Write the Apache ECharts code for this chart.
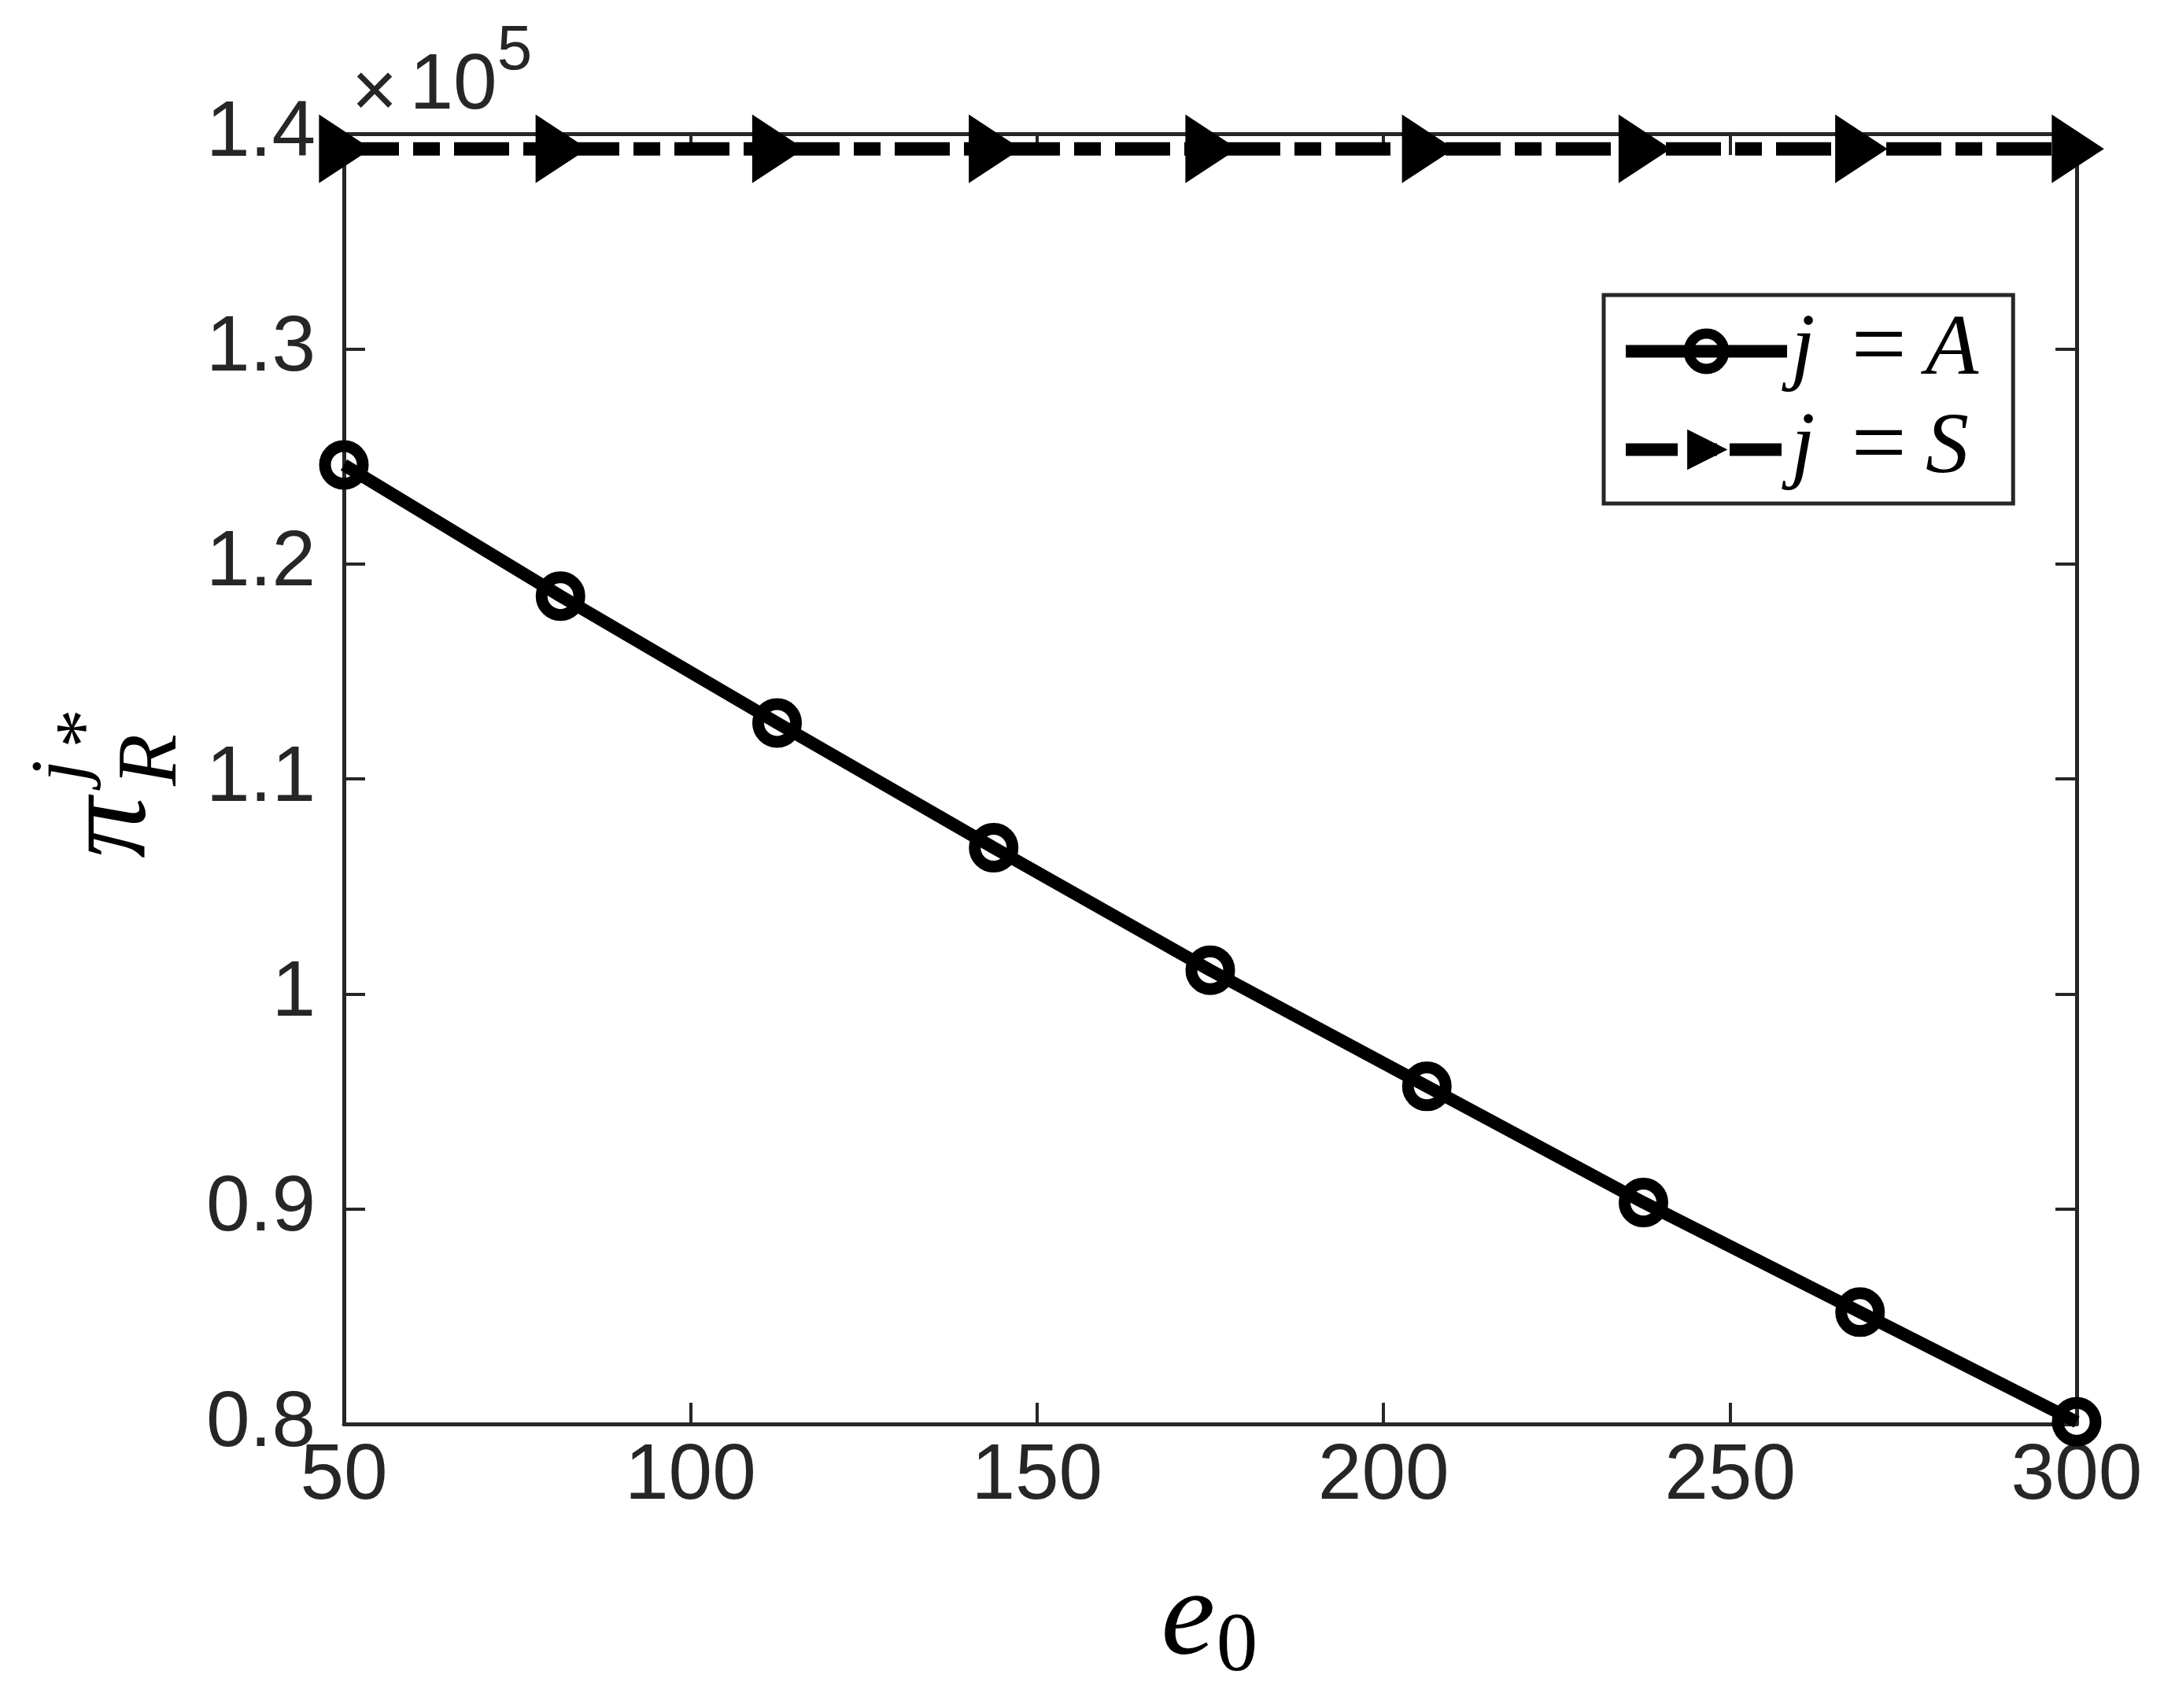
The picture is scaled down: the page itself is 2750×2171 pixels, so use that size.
<!DOCTYPE html>
<html><head><meta charset="utf-8">
<script src="https://cdn.jsdelivr.net/npm/echarts@6/dist/echarts.min.js"></script>
<style>html,body{margin:0;padding:0;background:#fff}#c{width:2750px;height:2171px}</style>
</head><body><div id="c"></div>
<script>
// x values (e_0)
const e0 = [50, 81.25, 112.5, 143.75, 175, 206.25, 237.5, 268.75, 300];
// pi_R^{j*} for j = A
const piA = [124600, 118500, 112600, 106800, 101100, 95700, 90300, 85200, 80100];
// pi_R^{j*} for j = S
const piS = [139300, 139300, 139300, 139300, 139300, 139300, 139300, 139300, 139300];
const seriesNames = ['A', 'S'];
const xRange = [50, 300, 50];
const yRange = [80000, 140000, 10000];

const AX = '#262626';
const axisLineStyle = {show: true, onZero: false, lineStyle: {color: AX, width: 5}};
const tickStyle = {show: true, inside: true, length: 27, lineStyle: {color: AX, width: 4}};
const labelFont = {fontSize: 100, fontFamily: 'Liberation Sans', color: AX};
const serif = 'Liberation Serif';
const dashS = [70, 18, 34, 18];

const chart = echarts.init(document.getElementById('c'), null, {renderer: 'canvas'});
chart.setOption({
  backgroundColor: '#fff',
  animation: false,
  grid: {left: 437, right: 111, top: 170, bottom: 361, containLabel: false},
  xAxis: [
    {type: 'value', min: xRange[0], max: xRange[1], interval: xRange[2], position: 'bottom',
     axisLine: axisLineStyle, axisTick: tickStyle, splitLine: {show: false},
     axisLabel: Object.assign({margin: 17}, labelFont)},
    {type: 'value', min: xRange[0], max: xRange[1], interval: xRange[2], position: 'top',
     axisLine: axisLineStyle, axisTick: tickStyle, splitLine: {show: false}, axisLabel: {show: false}}
  ],
  yAxis: [
    {type: 'value', min: yRange[0], max: yRange[1], interval: yRange[2], position: 'left',
     axisLine: axisLineStyle, axisTick: tickStyle, splitLine: {show: false},
     axisLabel: Object.assign({margin: 36, formatter: v => String(+(v / 1e5).toFixed(2))}, labelFont)},
    {type: 'value', min: yRange[0], max: yRange[1], interval: yRange[2], position: 'right',
     axisLine: axisLineStyle, axisTick: tickStyle, splitLine: {show: false}, axisLabel: {show: false}}
  ],
  legend: {
    orient: 'vertical', left: 2038, top: 375,
    padding: [9, 44, 6, 20],
    itemGap: 0, itemWidth: 205, itemHeight: 56,
    borderColor: AX, borderWidth: 5, backgroundColor: '#fff', borderRadius: 0,
    lineStyle: {color: '#000', width: 16},
    data: [
      {name: seriesNames[0],
       itemStyle: {color: 'rgba(0,0,0,0)', borderColor: '#000', borderWidth: 13},
       lineStyle: {color: '#000', width: 16, type: 'solid'}},
      {name: seriesNames[1],
       itemStyle: {color: '#000', borderColor: '#000', borderWidth: 4},
       lineStyle: {color: '#000', width: 16, type: [66, 16, 34, 16]}}
    ],
    formatter: n => '{i|j}{e|=}{i|' + n + '}',
    textStyle: {
      fontSize: 110, lineHeight: 100, fontFamily: serif, color: '#000',
      rich: {
        i: {fontSize: 110, lineHeight: 100, fontFamily: serif, fontStyle: 'italic', color: '#000'},
        e: {fontSize: 125, lineHeight: 100, fontFamily: serif, color: '#000', padding: [0, 24, 0, 46]}
      }
    }
  },
  series: [
    {name: 'A', type: 'line', xAxisIndex: 0, yAxisIndex: 0, clip: false,
     data: e0.map((x, i) => [x, piA[i]]),
     symbol: 'circle', symbolSize: 48,
     lineStyle: {color: '#000', width: 16},
     itemStyle: {color: 'rgba(0,0,0,0)', borderColor: '#000', borderWidth: 15}},
    {name: 'S', type: 'line', xAxisIndex: 0, yAxisIndex: 0, clip: false,
     data: e0.map((x, i) => [x, piS[i]]),
     symbol: 'triangle', symbolSize: [76, 58], symbolRotate: -90,
     lineStyle: {color: '#000', width: 17, type: dashS},
     itemStyle: {color: '#000', borderColor: '#000', borderWidth: 6}}
  ],
  graphic: [
    {type: 'text', x: 476, y: 120, style: {text: '×', fontSize: 100, fontFamily: 'Liberation Sans', fill: AX, align: 'center', verticalAlign: 'middle'}},
    {type: 'text', x: 576, y: 110, style: {text: '10', fontSize: 100, fontFamily: 'Liberation Sans', fill: AX, align: 'center', verticalAlign: 'middle'}},
    {type: 'text', x: 654, y: 66, style: {text: '5', fontSize: 80, fontFamily: 'Liberation Sans', fill: AX, align: 'center', verticalAlign: 'middle'}},
    {type: 'text', x: 1510, y: 2060, style: {text: 'e', fontSize: 155, fontFamily: serif, fontStyle: 'italic', fill: '#000', align: 'center', verticalAlign: 'middle'}},
    {type: 'text', x: 1572, y: 2095, style: {text: '0', fontSize: 105, fontFamily: serif, fill: '#000', align: 'center', verticalAlign: 'middle'}},
    {type: 'text', x: 142, y: 1052, rotation: Math.PI / 2, style: {text: 'π', fontSize: 155, fontFamily: serif, fontStyle: 'italic', fill: '#000', align: 'center', verticalAlign: 'middle'}},
    {type: 'text', x: 195, y: 966, rotation: Math.PI / 2, style: {text: 'R', fontSize: 108, fontFamily: serif, fontStyle: 'italic', fill: '#000', align: 'center', verticalAlign: 'middle'}},
    {type: 'text', x: 81, y: 980, rotation: Math.PI / 2, style: {text: 'j', fontSize: 100, fontFamily: serif, fontStyle: 'italic', fill: '#000', align: 'center', verticalAlign: 'middle'}},
    {type: 'text', x: 112, y: 926, rotation: Math.PI / 2, style: {text: '*', fontSize: 100, fontFamily: serif, fill: '#000', align: 'center', verticalAlign: 'middle'}}
  ]
});
</script></body></html>
